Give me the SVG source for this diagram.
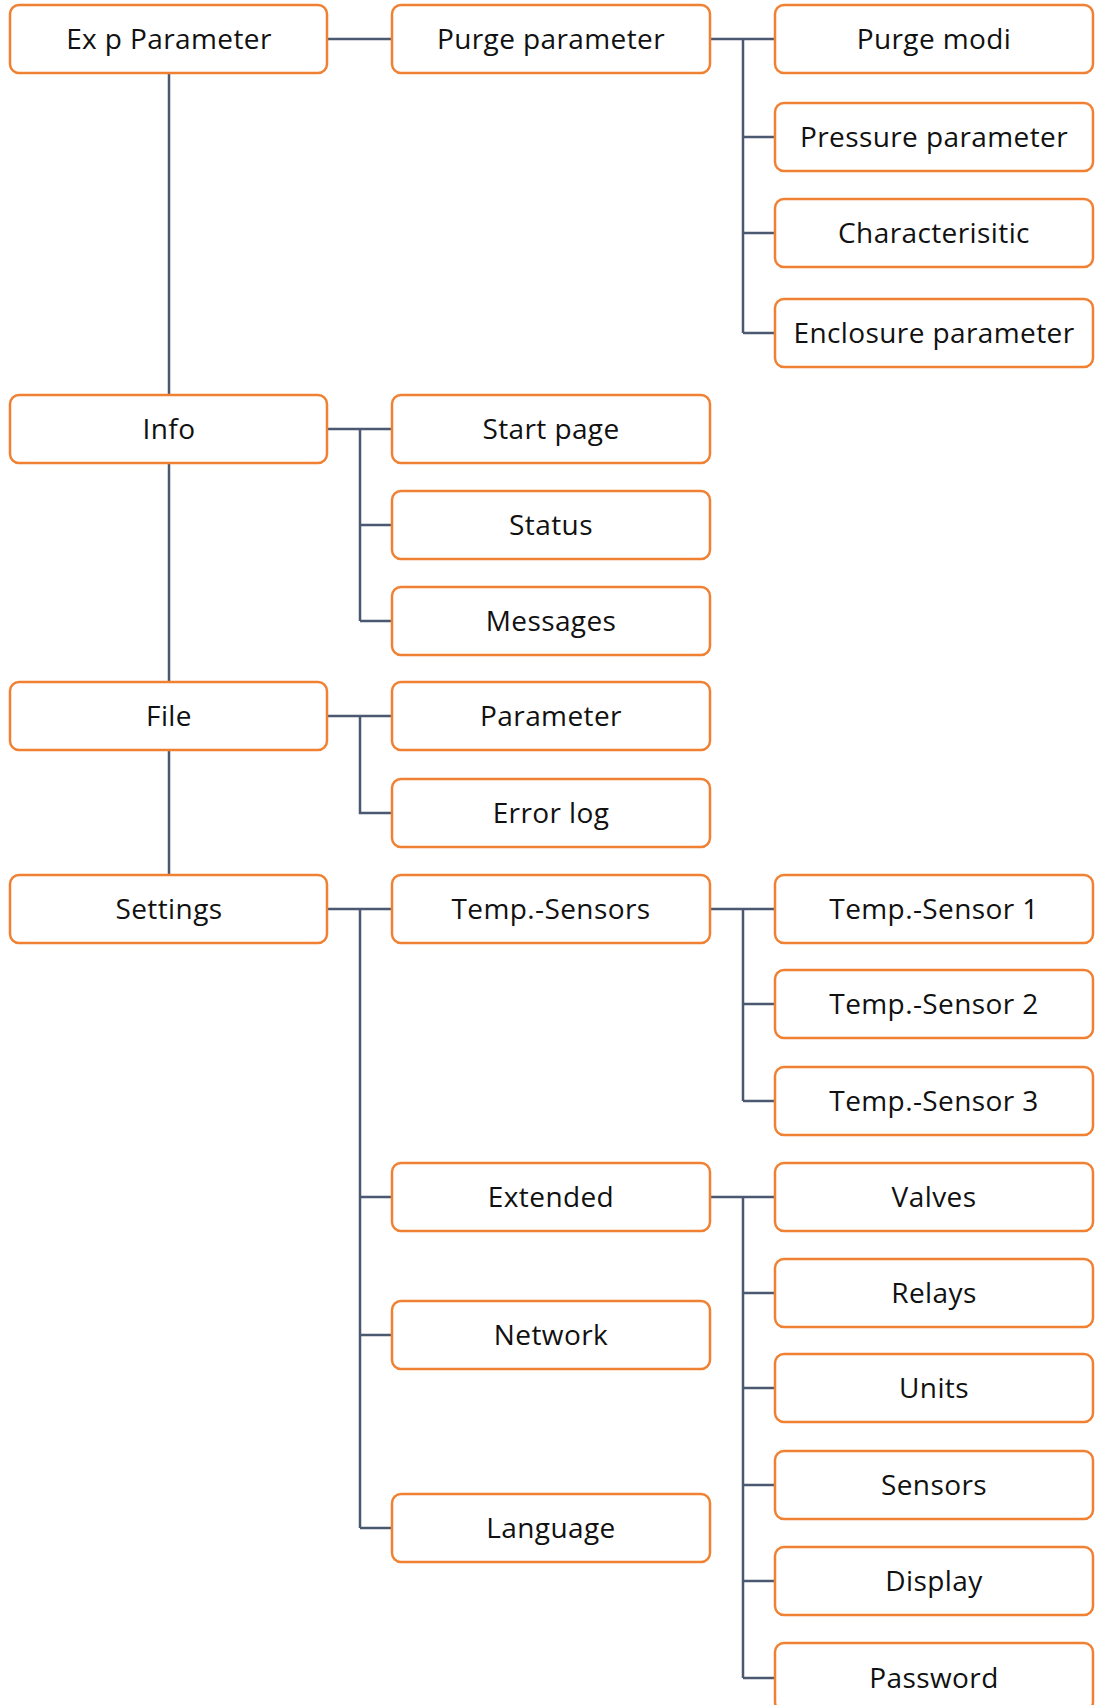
<svg xmlns="http://www.w3.org/2000/svg" width="1101" height="1705" viewBox="0 0 1101 1705">
<style>
.n rect{fill:#fff;stroke:#F08133;stroke-width:2.5}
.n text{font-family:"Open Sans","Liberation Sans",Arial,sans-serif;font-size:28px;letter-spacing:0.4px;fill:#111;text-anchor:middle}
.c path{fill:none;stroke:#4A5870;stroke-width:2.5}
</style>
<rect width="1101" height="1705" fill="#fff"/>
<g class="c" id="connectors">
<path d="M169 73V395M169 463V682M169 750V875"/>
<path d="M327 39H392"/>
<path d="M710 39H775M743 39V333M743 137H775M743 233H775M743 333H775"/>
<path d="M327 429H392M360 429V621M360 525H392M360 621H392"/>
<path d="M327 716H392M360 716V813H392"/>
<path d="M327 909H392M360 909V1528M360 1197H392M360 1335H392M360 1528H392"/>
<path d="M710 909H775M743 909V1101M743 1004H775M743 1101H775"/>
<path d="M710 1197H775M743 1197V1678M743 1293H775M743 1388H775M743 1485H775M743 1581H775M743 1678H775"/>
</g>
<g class="n" id="n-exp"><rect x="10" y="5" width="317" height="68" rx="9"/><text x="169" y="49">Ex p Parameter</text></g>
<g class="n" id="n-purge"><rect x="392" y="5" width="318" height="68" rx="9"/><text x="551" y="49">Purge parameter</text></g>
<g class="n" id="n-purgemodi"><rect x="775" y="5" width="318" height="68" rx="9"/><text x="934" y="49">Purge modi</text></g>
<g class="n" id="n-pressure"><rect x="775" y="103" width="318" height="68" rx="9"/><text x="934" y="147">Pressure parameter</text></g>
<g class="n" id="n-char"><rect x="775" y="199" width="318" height="68" rx="9"/><text x="934" y="243">Characterisitic</text></g>
<g class="n" id="n-encl"><rect x="775" y="299" width="318" height="68" rx="9"/><text x="934" y="343">Enclosure parameter</text></g>
<g class="n" id="n-info"><rect x="10" y="395" width="317" height="68" rx="9"/><text x="169" y="439">Info</text></g>
<g class="n" id="n-start"><rect x="392" y="395" width="318" height="68" rx="9"/><text x="551" y="439">Start page</text></g>
<g class="n" id="n-status"><rect x="392" y="491" width="318" height="68" rx="9"/><text x="551" y="535">Status</text></g>
<g class="n" id="n-messages"><rect x="392" y="587" width="318" height="68" rx="9"/><text x="551" y="631">Messages</text></g>
<g class="n" id="n-file"><rect x="10" y="682" width="317" height="68" rx="9"/><text x="169" y="726">File</text></g>
<g class="n" id="n-param"><rect x="392" y="682" width="318" height="68" rx="9"/><text x="551" y="726">Parameter</text></g>
<g class="n" id="n-errlog"><rect x="392" y="779" width="318" height="68" rx="9"/><text x="551" y="823">Error log</text></g>
<g class="n" id="n-settings"><rect x="10" y="875" width="317" height="68" rx="9"/><text x="169" y="919">Settings</text></g>
<g class="n" id="n-temps"><rect x="392" y="875" width="318" height="68" rx="9"/><text x="551" y="919">Temp.-Sensors</text></g>
<g class="n" id="n-t1"><rect x="775" y="875" width="318" height="68" rx="9"/><text x="934" y="919">Temp.-Sensor 1</text></g>
<g class="n" id="n-t2"><rect x="775" y="970" width="318" height="68" rx="9"/><text x="934" y="1014">Temp.-Sensor 2</text></g>
<g class="n" id="n-t3"><rect x="775" y="1067" width="318" height="68" rx="9"/><text x="934" y="1111">Temp.-Sensor 3</text></g>
<g class="n" id="n-ext"><rect x="392" y="1163" width="318" height="68" rx="9"/><text x="551" y="1207">Extended</text></g>
<g class="n" id="n-network"><rect x="392" y="1301" width="318" height="68" rx="9"/><text x="551" y="1345">Network</text></g>
<g class="n" id="n-language"><rect x="392" y="1494" width="318" height="68" rx="9"/><text x="551" y="1538">Language</text></g>
<g class="n" id="n-valves"><rect x="775" y="1163" width="318" height="68" rx="9"/><text x="934" y="1207">Valves</text></g>
<g class="n" id="n-relays"><rect x="775" y="1259" width="318" height="68" rx="9"/><text x="934" y="1303">Relays</text></g>
<g class="n" id="n-units"><rect x="775" y="1354" width="318" height="68" rx="9"/><text x="934" y="1398">Units</text></g>
<g class="n" id="n-sensors"><rect x="775" y="1451" width="318" height="68" rx="9"/><text x="934" y="1495">Sensors</text></g>
<g class="n" id="n-display"><rect x="775" y="1547" width="318" height="68" rx="9"/><text x="934" y="1591">Display</text></g>
<g class="n" id="n-password"><rect x="775" y="1643" width="318" height="68" rx="9"/><text x="934" y="1688">Password</text></g>
</svg>
